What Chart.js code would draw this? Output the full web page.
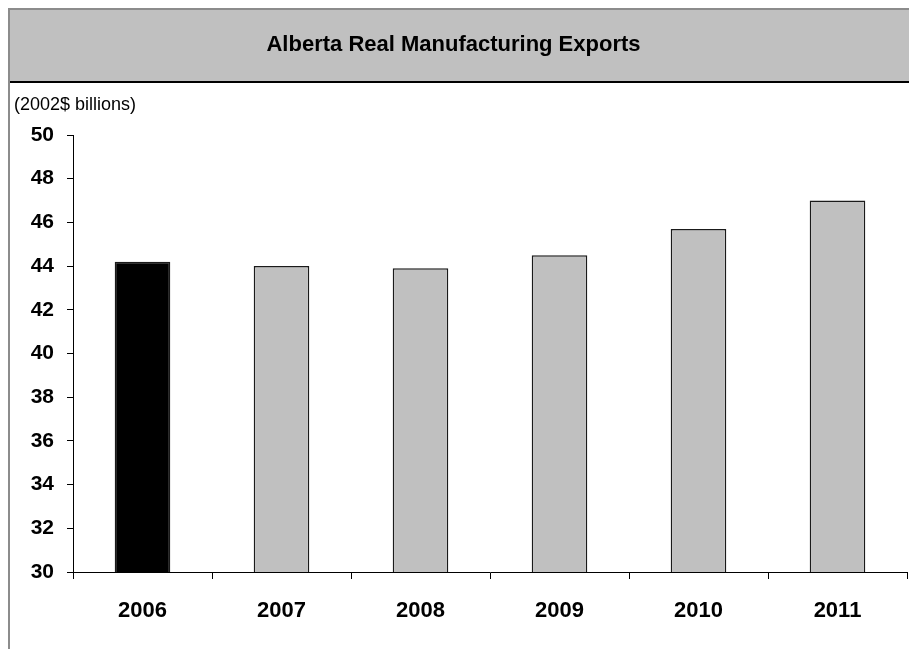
<!DOCTYPE html>
<html>
<head>
<meta charset="utf-8">
<title>Alberta Real Manufacturing Exports</title>
<script src="https://cdn.jsdelivr.net/npm/chart.js@4.4.1/dist/chart.umd.min.js"></script>
<style>
  html, body { margin: 0; padding: 0; background: #fff; }
  #exportsChart { display: block; }
</style>
</head>
<body>
<canvas id="exportsChart" width="909" height="649"></canvas>
<script>
// chart data
const years = ['2006', '2007', '2008', '2009', '2010', '2011'];
const exportValues = [44.2, 44.0, 43.9, 44.5, 45.7, 47.0];
const yTicks = [30, 32, 34, 36, 38, 40, 42, 44, 46, 48, 50];

const chartTitle = 'Alberta Real Manufacturing Exports';
const unitsLabel = '(2002$ billions)';

// first year is the actual, the rest are forecast
const barColors = years.map((y, i) => i === 0 ? '#000000' : '#c0c0c0');

const fontFamily = '"Liberation Sans", Arial, sans-serif';

// grey title band, frame lines and the units label
const framePlugin = {
    id: 'frame',
    beforeDraw: function(chart) {
        const ctx = chart.ctx;
        const w = chart.width;
        const h = chart.height;
        ctx.save();
        ctx.fillStyle = '#ffffff';
        ctx.fillRect(0, 0, w, h);
        ctx.fillStyle = '#c0c0c0';
        ctx.fillRect(10, 10, w - 10, 71);
        ctx.fillStyle = '#8c8c8c';
        ctx.fillRect(8, 8, w - 8, 2);
        ctx.fillRect(8, 8, 2, h - 8);
        ctx.fillStyle = '#000000';
        ctx.fillRect(10, 81, w - 10, 2);
        ctx.restore();
    },
    afterDraw: function(chart) {
        const ctx = chart.ctx;
        ctx.save();
        ctx.fillStyle = '#000000';
        ctx.font = '18px ' + fontFamily;
        ctx.textAlign = 'left';
        ctx.textBaseline = 'middle';
        ctx.fillText(unitsLabel, 14, 105);
        ctx.restore();
    }
};

const ctx = document.getElementById('exportsChart').getContext('2d');
const exportsChart = new Chart(ctx, {
    type: 'bar',
    data: {
        labels: years,
        datasets: [{
            label: 'Real manufacturing exports',
            data: exportValues,
            backgroundColor: barColors,
            borderColor: '#1a1a1a',
            borderWidth: 1.5,
            borderSkipped: 'bottom',
            barPercentage: 0.4,
            categoryPercentage: 1.0
        }]
    },
    options: {
        responsive: false,
        animation: false,
        layout: {
            padding: { left: 0, right: 2, top: 0, bottom: 0 }
        },
        plugins: {
            legend: { display: false },
            tooltip: { enabled: false },
            title: {
                display: true,
                text: chartTitle,
                color: '#000000',
                font: { family: fontFamily, size: 22, weight: 'bold' },
                padding: { top: 32, bottom: 76.6 }
            }
        },
        scales: {
            y: {
                min: 30,
                max: 50,
                afterBuildTicks: function(scale) {
                    scale.ticks = yTicks.map(v => ({ value: v }));
                },
                afterFit: function(scale) {
                    scale.width = 73;
                },
                border: { display: true, color: '#000000', width: 1 },
                grid: {
                    drawOnChartArea: false,
                    drawTicks: true,
                    tickLength: 6,
                    color: '#000000'
                },
                ticks: {
                    color: '#000000',
                    padding: 13,
                    font: { family: fontFamily, size: 21, weight: 'bold' }
                }
            },
            x: {
                offset: true,
                afterFit: function(scale) {
                    scale.height = 77;
                },
                border: { display: true, color: '#000000', width: 1 },
                grid: {
                    offset: true,
                    drawOnChartArea: false,
                    drawTicks: true,
                    tickLength: 7,
                    color: '#000000'
                },
                ticks: {
                    color: '#000000',
                    padding: 19,
                    font: { family: fontFamily, size: 22, weight: 'bold' }
                }
            }
        }
    },
    plugins: [framePlugin]
});
</script>
</body>
</html>
